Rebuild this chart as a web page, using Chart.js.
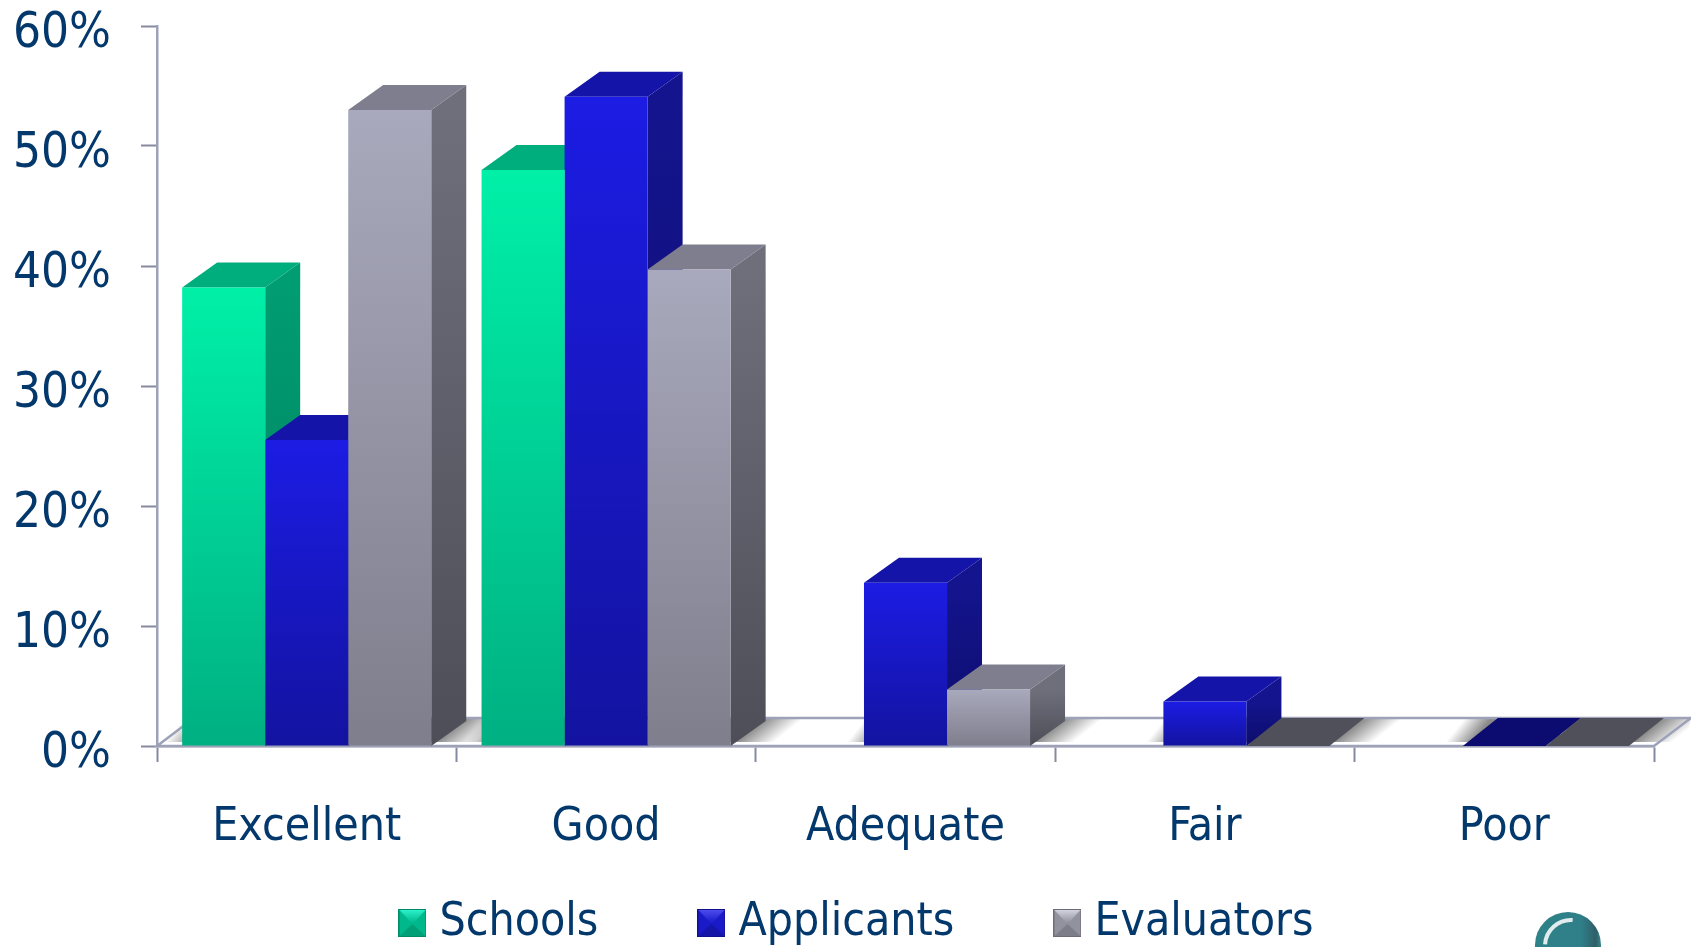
<!DOCTYPE html>
<html>
<head>
<meta charset="utf-8">
<title>Ratings</title>
<script src="https://cdn.jsdelivr.net/npm/chart.js@4"></script>
<style>
  body { margin: 0; background: #fff; }
  canvas { display: block; }
</style>
</head>
<body>
<canvas id="ratings" width="1691" height="947"></canvas>
<script>
const categories = ["Excellent", "Good", "Adequate", "Fair", "Poor"];
const schools = [38.2, 48, null, null, null];
const applicants = [25.5, 54.1, 13.6, 3.7, 0];
const evaluators = [53, 39.7, 4.7, 0, 0];

const FONT = '"DejaVu Sans Condensed", "DejaVu Sans", sans-serif';
const TEXT = "#03386c";
const AXIS = "#9ea2b8";
const TICK = "#858aa0";
const DEPTH_X = 35;
const DEPTH_Y = 25;
const FLOOR_X = 37;
const FLOOR_Y = 28;
const LEGEND_GAP = 109;

const palette = [
    { front: ["#00f0a8", "#00b082"], side: ["#009c72", "#007d5a"], top: "#00ad7d", flat: "#00ad7d", swatch: ["#2ff5cf", "#00b88c", "#008a68"] },
    { front: ["#1c1ce4", "#1313a0"], side: ["#14148e", "#0d0d6c"], top: "#1414a8", flat: "#0c0c70", swatch: ["#5050f0", "#1a1ac8", "#12128c"] },
    { front: ["#a9a9bd", "#7e7e8c"], side: ["#6f6f7c", "#4e4e58"], top: "#7e7e8e", flat: "#50505a", swatch: ["#d8d8e4", "#92929f", "#6c6c78"] }
];

function barGradient(ctx) {
    const chart = ctx.chart;
    const value = ctx.raw;
    if (!chart.chartArea || value === null || value === undefined) return palette[ctx.datasetIndex].front[0];
    const y = chart.scales.y;
    const g = chart.ctx.createLinearGradient(0, y.getPixelForValue(value), 0, y.getPixelForValue(0));
    g.addColorStop(0, palette[ctx.datasetIndex].front[0]);
    g.addColorStop(1, palette[ctx.datasetIndex].front[1]);
    return g;
}

function makeSwatch(colors) {
    const c = document.createElement("canvas");
    c.width = 28;
    c.height = 28;
    const x = c.getContext("2d");
    x.fillStyle = colors[1];
    x.fillRect(0, 0, 28, 28);
    const top = x.createLinearGradient(0, 0, 0, 14);
    top.addColorStop(0, colors[0]);
    top.addColorStop(1, colors[1]);
    x.fillStyle = top;
    x.beginPath();
    x.moveTo(0, 0);
    x.lineTo(28, 0);
    x.lineTo(14, 15);
    x.closePath();
    x.fill();
    x.fillStyle = colors[2];
    x.beginPath();
    x.moveTo(0, 28);
    x.lineTo(28, 28);
    x.lineTo(14, 15);
    x.closePath();
    x.globalAlpha = 0.55;
    x.fill();
    x.globalAlpha = 1;
    x.strokeStyle = colors[2];
    x.strokeRect(0.5, 0.5, 27, 27);
    return c;
}

function parallelogram(ctx, x1, x2, y, dx, dy) {
    ctx.beginPath();
    ctx.moveTo(x1, y);
    ctx.lineTo(x1 + dx, y - dy);
    ctx.lineTo(x2 + dx, y - dy);
    ctx.lineTo(x2, y);
    ctx.closePath();
}

function floorShadow(ctx, x, y, dirX, dirY, len) {
    const g = ctx.createLinearGradient(x, y, x + dirX * len, y + dirY * len);
    g.addColorStop(0, "rgba(110,110,110,0.8)");
    g.addColorStop(1, "rgba(110,110,110,0)");
    ctx.fillStyle = g;
    ctx.fillRect(x - 80, y - 40, 160, 80);
}

const floorAndDepth = {
    id: "floorAndDepth",
    beforeDatasetsDraw(chart) {
        const ctx = chart.ctx;
        const area = chart.chartArea;
        const base = area.bottom;
        const metas = chart.data.datasets.map((d, i) => chart.getDatasetMeta(i));

        // floor
        ctx.save();
        parallelogram(ctx, area.left, area.right, base, FLOOR_X, FLOOR_Y);
        ctx.fillStyle = "#fff";
        ctx.fill();
        ctx.save();
        ctx.beginPath();
        ctx.moveTo(area.left, base - 4);
        ctx.lineTo(area.left + FLOOR_X * 0.86, base - FLOOR_Y);
        ctx.lineTo(area.right + FLOOR_X, base - FLOOR_Y);
        ctx.lineTo(area.right + FLOOR_X * 0.86, base - 4);
        ctx.closePath();
        ctx.clip();
        categories.forEach((name, i) => {
            const bars = metas.map((m, d) => chart.data.datasets[d].data[i] === null ? null : m.data[i]).filter(Boolean);
            const left = bars[0].x - bars[0].width / 2;
            const last = bars[bars.length - 1];
            const right = last.x + last.width / 2;
            floorShadow(ctx, left + DEPTH_X / 2, base - FLOOR_Y / 2, -0.62, -0.5, 26);
            floorShadow(ctx, right + DEPTH_X / 2, base - FLOOR_Y / 2, 0.62, 0.78, 24);
        });
        ctx.restore();
        parallelogram(ctx, area.left, area.right, base, FLOOR_X, FLOOR_Y);
        ctx.strokeStyle = AXIS;
        ctx.lineWidth = 2.5;
        ctx.stroke();

        // side and top faces, left to right so the later ones cover the earlier
        categories.forEach((name, i) => {
            metas.forEach((meta, d) => {
                const value = chart.data.datasets[d].data[i];
                if (value === null) return;
                const bar = meta.data[i];
                const style = palette[d];
                const left = bar.x - bar.width / 2;
                const right = bar.x + bar.width / 2;
                if (value > 0) {
                    const g = ctx.createLinearGradient(0, bar.y, 0, base);
                    g.addColorStop(0, style.side[0]);
                    g.addColorStop(1, style.side[1]);
                    ctx.fillStyle = g;
                    ctx.beginPath();
                    ctx.moveTo(right, bar.y);
                    ctx.lineTo(right + DEPTH_X, bar.y - DEPTH_Y);
                    ctx.lineTo(right + DEPTH_X, base - DEPTH_Y);
                    ctx.lineTo(right, base);
                    ctx.closePath();
                    ctx.fill();
                }
                parallelogram(ctx, left, right, bar.y, DEPTH_X, value > 0 ? DEPTH_Y : FLOOR_Y);
                ctx.fillStyle = value > 0 ? style.top : style.flat;
                ctx.fill();
            });
        });
        ctx.restore();
    }
};

// legend sits in its own spot, y labels hang a little below their ticks
const placement = {
    id: "placement",
    beforeInit(chart) {
        const fit = chart.legend.fit;
        chart.legend.fit = function () {
            fit.call(this);
            this.height = 0;
        };
    },
    afterLayout(chart) {
        chart.legend.top = 920 - LEGEND_GAP - 20;
        chart.legend.left += 34;
        chart.legend.right += 34;
        chart.scales.y.getLabelItems().forEach(item => {
            item.options.translation[1] += 8;
        });
    }
};

// the round badge cut off by the bottom edge
const badge = {
    id: "badge",
    afterDraw(chart) {
        const ctx = chart.ctx;
        ctx.save();
        const g = ctx.createLinearGradient(1535, 0, 1601, 0);
        g.addColorStop(0, "#2f8288");
        g.addColorStop(0.7, "#2f7f88");
        g.addColorStop(0.92, "#2f5f68");
        g.addColorStop(1, "#3a858c");
        ctx.beginPath();
        ctx.arc(1568, 945, 33, 0, Math.PI * 2);
        ctx.fillStyle = g;
        ctx.fill();
        ctx.beginPath();
        ctx.arc(1571, 946, 26, Math.PI * 1.02, Math.PI * 1.52);
        ctx.strokeStyle = "rgba(255,255,255,0.85)";
        ctx.lineWidth = 4;
        ctx.stroke();
        ctx.restore();
    }
};

new Chart("ratings", {
    type: "bar",
    data: {
        labels: categories,
        datasets: [
            { label: "Schools", data: schools, backgroundColor: barGradient, pointStyle: makeSwatch(palette[0].swatch) },
            { label: "Applicants", data: applicants, backgroundColor: barGradient, pointStyle: makeSwatch(palette[1].swatch) },
            { label: "Evaluators", data: evaluators, backgroundColor: barGradient, pointStyle: makeSwatch(palette[2].swatch) }
        ]
    },
    options: {
        responsive: false,
        animation: false,
        events: [],
        layout: { padding: { top: 26, right: 37, bottom: 0, left: 0 } },
        datasets: { bar: { categoryPercentage: 0.832, barPercentage: 1 } },
        scales: {
            x: {
                afterFit(scale) {
                    scale.height = 201;
                    scale.paddingLeft = 0;
                    scale.paddingRight = 0;
                },
                border: { color: AXIS, width: 2.5 },
                grid: { drawOnChartArea: false, tickLength: 16, tickColor: TICK, tickWidth: 2, offset: true },
                ticks: { color: TEXT, font: { family: FONT, size: 46 }, padding: 38, maxRotation: 0 }
            },
            y: {
                min: 0,
                max: 60,
                afterFit(scale) {
                    scale.width = 157;
                    scale.paddingTop = 0;
                    scale.paddingBottom = 0;
                },
                border: { color: AXIS, width: 2.5 },
                grid: { drawOnChartArea: false, tickLength: 16, tickColor: TICK, tickWidth: 2 },
                ticks: {
                    stepSize: 10,
                    color: TEXT,
                    font: { family: FONT, size: 49 },
                    padding: 30,
                    callback: v => v + "%"
                }
            }
        },
        plugins: {
            tooltip: { enabled: false },
            legend: {
                position: "bottom",
                labels: {
                    color: TEXT,
                    font: { family: FONT, size: 46 },
                    usePointStyle: true,
                    pointStyleWidth: 8,
                    padding: LEGEND_GAP
                }
            }
        }
    },
    plugins: [floorAndDepth, placement, badge]
});
</script>
</body>
</html>
